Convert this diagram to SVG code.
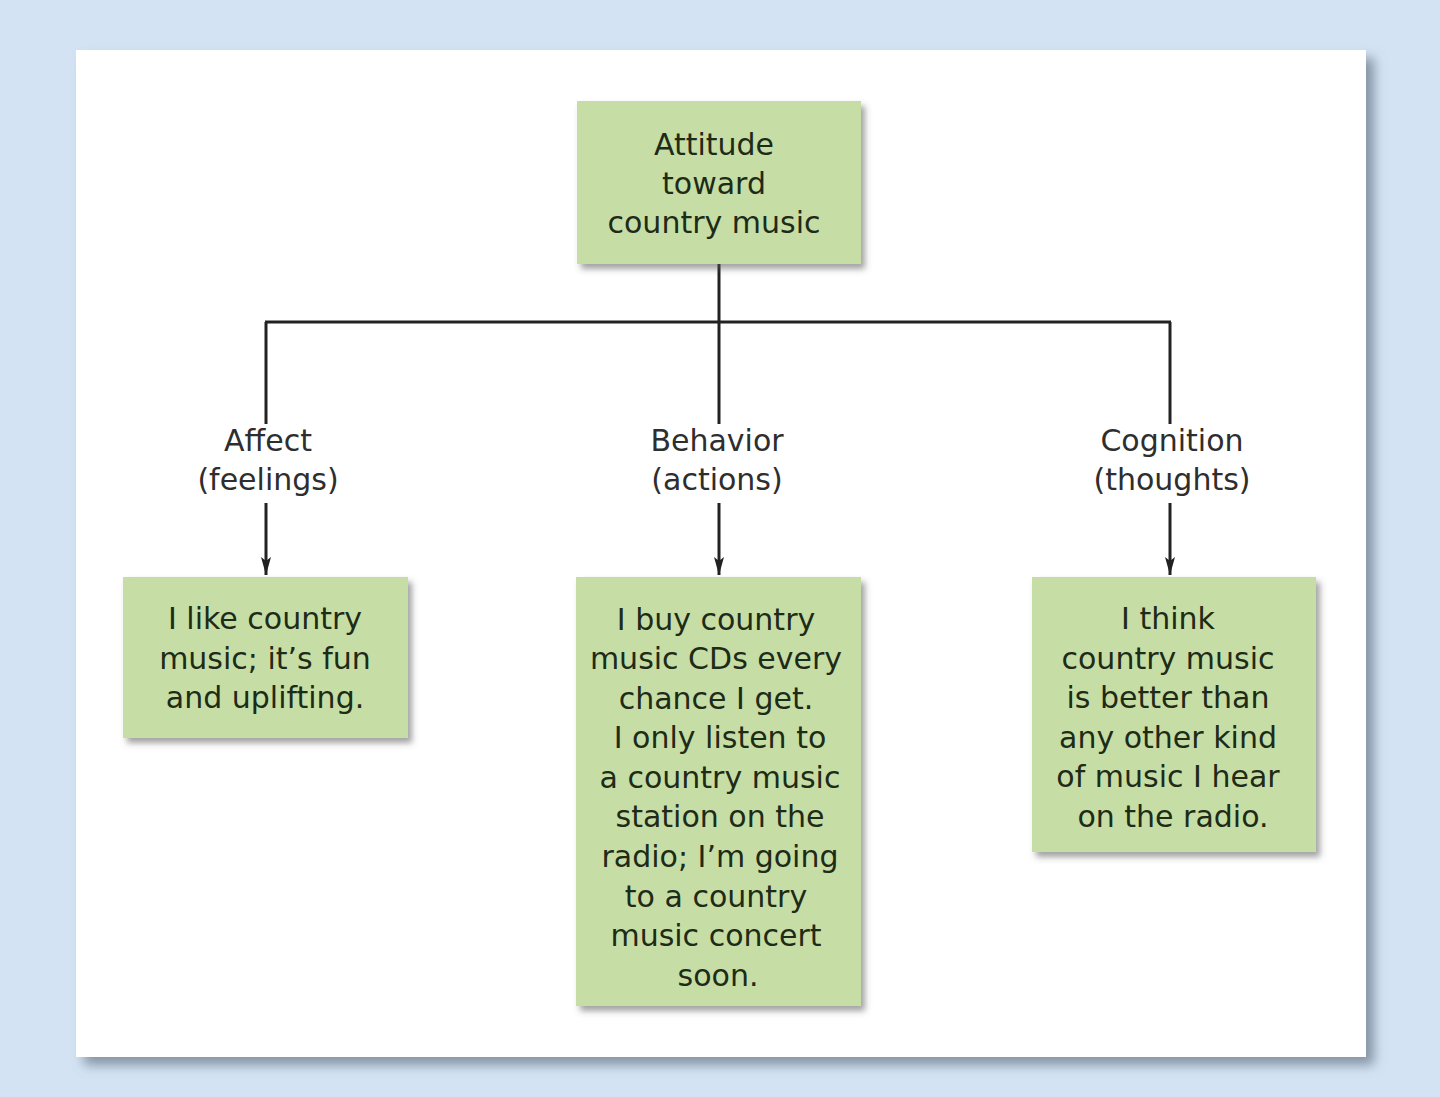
<svg xmlns="http://www.w3.org/2000/svg" width="1440" height="1097" viewBox="0 0 1440 1097">
  <defs>
    <filter id="panelShadow" x="-5%" y="-5%" width="115%" height="115%">
      <feGaussianBlur in="SourceAlpha" stdDeviation="6"/>
      <feOffset dx="8" dy="8" result="b"/>
      <feFlood flood-color="#6b7a8c" flood-opacity="0.75"/>
      <feComposite in2="b" operator="in"/>
      <feMerge><feMergeNode/><feMergeNode in="SourceGraphic"/></feMerge>
    </filter>
    <filter id="boxShadow" x="-10%" y="-10%" width="125%" height="125%">
      <feGaussianBlur in="SourceAlpha" stdDeviation="3"/>
      <feOffset dx="4" dy="5" result="b"/>
      <feFlood flood-color="#555" flood-opacity="0.55"/>
      <feComposite in2="b" operator="in"/>
      <feMerge><feMergeNode/><feMergeNode in="SourceGraphic"/></feMerge>
    </filter>
    <marker id="arrow" viewBox="0 0 18 10" refX="18" refY="5" markerWidth="18" markerHeight="10" markerUnits="userSpaceOnUse" orient="auto">
      <path d="M0,0 L18,5 L0,10 L4,5 Z" fill="#222"/>
    </marker>
    <style>
      .box { fill: #c6dea6; filter: url(#boxShadow); }
      .btxt { font-family: "DejaVu Sans", "Liberation Sans", sans-serif; font-size: 30px; fill: #1e2b16; text-anchor: middle; }
      .lbl { font-family: "DejaVu Sans", "Liberation Sans", sans-serif; font-size: 30px; fill: #2e2e2e; text-anchor: middle; }
      .ln { stroke: #222; stroke-width: 3; fill: none; }
    </style>
  </defs>

  <rect x="0" y="0" width="1440" height="1097" fill="#d3e3f3"/>
  <rect x="76" y="50" width="1290" height="1007" fill="#ffffff" filter="url(#panelShadow)"/>

  <g id="connectors">
    <line class="ln" x1="719" y1="264" x2="719" y2="424"/>
    <line class="ln" x1="265" y1="322" x2="1171" y2="322"/>
    <line class="ln" x1="266" y1="322" x2="266" y2="424"/>
    <line class="ln" x1="1170" y1="322" x2="1170" y2="424"/>
    <line class="ln" x1="266" y1="503" x2="266" y2="575" marker-end="url(#arrow)"/>
    <line class="ln" x1="719" y1="503" x2="719" y2="575" marker-end="url(#arrow)"/>
    <line class="ln" x1="1170" y1="503" x2="1170" y2="575" marker-end="url(#arrow)"/>
  </g>

  <g id="attitude">
    <rect class="box" x="577" y="101" width="284" height="163"/>
    <text class="btxt" x="714" y="155">Attitude</text>
    <text class="btxt" x="714" y="194">toward</text>
    <text class="btxt" x="714" y="233">country music</text>
  </g>

  <g id="affect-label">
    <text class="lbl" x="268" y="451">Affect</text>
    <text class="lbl" x="268" y="490">(feelings)</text>
  </g>
  <g id="behavior-label">
    <text class="lbl" x="717" y="451">Behavior</text>
    <text class="lbl" x="717" y="490">(actions)</text>
  </g>
  <g id="cognition-label">
    <text class="lbl" x="1172" y="451">Cognition</text>
    <text class="lbl" x="1172" y="490">(thoughts)</text>
  </g>

  <g id="affect">
    <rect class="box" x="123" y="577" width="285" height="161"/>
    <text class="btxt" x="265" y="629">I like country</text>
    <text class="btxt" x="265" y="669">music; it’s fun</text>
    <text class="btxt" x="265" y="708">and uplifting.</text>
  </g>

  <g id="behavior">
    <rect class="box" x="576" y="577" width="285" height="429"/>
    <text class="btxt" x="716" y="630">I buy country</text>
    <text class="btxt" x="716" y="669">music CDs every</text>
    <text class="btxt" x="716" y="709">chance I get.</text>
    <text class="btxt" x="720" y="748">I only listen to</text>
    <text class="btxt" x="720" y="788">a country music</text>
    <text class="btxt" x="720" y="827">station on the</text>
    <text class="btxt" x="720" y="867">radio; I’m going</text>
    <text class="btxt" x="716" y="907">to a country</text>
    <text class="btxt" x="716" y="946">music concert</text>
    <text class="btxt" x="718" y="986">soon.</text>
  </g>

  <g id="cognition">
    <rect class="box" x="1032" y="577" width="284" height="275"/>
    <text class="btxt" x="1168" y="629">I think</text>
    <text class="btxt" x="1168" y="669">country music</text>
    <text class="btxt" x="1168" y="708">is better than</text>
    <text class="btxt" x="1168" y="748">any other kind</text>
    <text class="btxt" x="1168" y="787">of music I hear</text>
    <text class="btxt" x="1173" y="827">on the radio.</text>
  </g>
</svg>
